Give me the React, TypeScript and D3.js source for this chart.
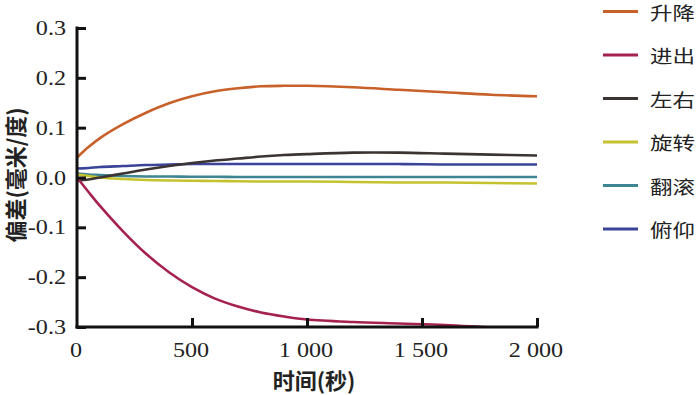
import React, { useEffect, useRef } from 'react';
import * as d3 from 'd3';

// sample times (seconds)
const times = [0, 50, 100, 200, 300, 400, 500, 600, 700, 800, 900, 1000, 1200, 1400, 1600, 1800, 2000];

const seriesNames = ['升降', '进出', '左右', '旋转', '翻滚', '俯仰'];
const seriesColors = ['#c8602a', '#a5224f', '#3b3432', '#c4c22e', '#3d8593', '#3b4498'];

const liftValues = [0.040, 0.061, 0.079, 0.107, 0.130, 0.149, 0.163, 0.173, 0.179, 0.183, 0.184, 0.184, 0.181, 0.176, 0.171, 0.166, 0.163];
const inOutValues = [0.0, -0.029, -0.057, -0.108, -0.153, -0.190, -0.220, -0.243, -0.259, -0.271, -0.279, -0.285, -0.290, -0.293, -0.296, -0.301, -0.305];
const leftRightValues = [-0.006, -0.004, 0.0, 0.008, 0.016, 0.023, 0.029, 0.034, 0.038, 0.042, 0.045, 0.047, 0.050, 0.050, 0.048, 0.046, 0.044];
const rotateValues = [0.006, 0.003, 0.0, -0.003, -0.005, -0.006, -0.0065, -0.007, -0.0075, -0.008, -0.008, -0.008, -0.009, -0.010, -0.010, -0.011, -0.012];
const rollValues = [0.008, 0.006, 0.005, 0.003, 0.002, 0.002, 0.0015, 0.0015, 0.001, 0.001, 0.001, 0.001, 0.001, 0.001, 0.001, 0.001, 0.001];
const pitchValues = [0.018, 0.019, 0.021, 0.023, 0.025, 0.026, 0.027, 0.027, 0.027, 0.027, 0.027, 0.027, 0.027, 0.027, 0.026, 0.026, 0.026];

const yTicks = [0.3, 0.2, 0.1, 0.0, -0.1, -0.2, -0.3];
const yTickLabels = ['0.3', '0.2', '0.1', '0.0', '-0.1', '-0.2', '-0.3'];
const xTicks = [0, 500, 1000, 1500, 2000];
const xTickLabels = ['0', '500', '1 000', '1 500', '2 000'];

const W = 700;
const H = 395;
const left = 77, right = 537, top = 28, bottom = 327;

const serif = 'Liberation Serif, Times New Roman, serif';
const cjk = 'Noto Sans CJK SC';

export default function App() {
  const ref = useRef<SVGSVGElement | null>(null);

  useEffect(() => {
    const svg = d3.select(ref.current);
    svg.selectAll('*').remove();

    const x = d3.scaleLinear().domain([0, 2000]).range([left, right]);
    const y = d3.scaleLinear().domain([-0.3, 0.3]).range([bottom, top]);

    const allSeries = [liftValues, inOutValues, leftRightValues, rotateValues, rollValues, pitchValues];

    svg.append('defs').append('clipPath').attr('id', 'plot-clip')
      .append('rect').attr('x', left).attr('y', top).attr('width', right - left).attr('height', bottom - top);

    const line = d3.line<number>()
      .x((_, i) => x(times[i]))
      .y(d => y(d))
      .curve(d3.curveCatmullRom.alpha(0.5));

    const g = svg.append('g').attr('clip-path', 'url(#plot-clip)');
    // lighter lines underneath, darker on top
    const order = [4, 3, 5, 2, 0, 1];
    order.forEach(k => {
      g.append('path')
        .attr('d', line(allSeries[k]))
        .attr('fill', 'none')
        .attr('stroke', seriesColors[k])
        .attr('stroke-width', 2.6);
    });

    // axes with inward ticks
    const yAxis = d3.axisLeft(y).tickValues(yTicks).tickSize(-9).tickSizeOuter(0).tickFormat(() => '');
    const xAxis = d3.axisBottom(x).tickValues(xTicks.slice(1)).tickSize(-9).tickSizeOuter(0).tickFormat(() => '');

    const ya = svg.append('g').attr('transform', `translate(${left},0)`).call(yAxis);
    const xa = svg.append('g').attr('transform', `translate(0,${bottom})`).call(xAxis);
    [ya, xa].forEach(a => {
      a.select('.domain').attr('stroke', '#111').attr('stroke-width', 3);
      a.selectAll('.tick line').attr('stroke', '#111').attr('stroke-width', 3);
    });
    xa.select('.domain').attr('d', `M${left - 1.5},0H${right + 1.5}`);
    ya.select('.domain').attr('d', `M0,${top - 1.5}V${bottom + 1.5}`);

    // tick labels (serif numerals, stretched a little horizontally)
    const labels = svg.append('g').attr('font-family', serif).attr('font-size', 21).attr('fill', '#222');
    labels.append('g').selectAll('text').data(yTicks).join('text')
      .attr('transform', d => `translate(66,${y(d) + 7}) scale(1.15,1)`)
      .attr('text-anchor', 'end')
      .text((_, i) => yTickLabels[i]);

    labels.append('g').selectAll('text').data(xTicks).join('text')
      .attr('transform', d => `translate(${x(d) - 1},357) scale(1.15,1)`)
      .attr('text-anchor', 'middle')
      .text((_, i) => xTickLabels[i]);

    // axis titles
    const titles = svg.append('g').attr('font-family', cjk).attr('font-weight', 700)
      .attr('font-size', 22).attr('fill', '#222');
    titles.append('text')
      .attr('x', 314).attr('y', 389)
      .attr('text-anchor', 'middle')
      .text('时间(秒)');

    titles.append('text')
      .attr('transform', 'translate(24,175) rotate(-90)')
      .attr('text-anchor', 'middle')
      .text('偏差(毫米/度)');

    // legend
    const legendY = d3.scalePoint<string>().domain(seriesNames).range([11.5, 229]);
    const lg = svg.append('g').attr('font-family', cjk).attr('font-size', 18).attr('fill', '#222');
    seriesNames.forEach((name, i) => {
      const yy = legendY(name) as number;
      lg.append('line')
        .attr('x1', 603).attr('x2', 638).attr('y1', yy).attr('y2', yy)
        .attr('stroke', seriesColors[i]).attr('stroke-width', 3);
      lg.append('text')
        .attr('transform', `translate(650,${yy + 8}) scale(1.25,1)`)
        .text(name);
    });
  }, []);

  return (
    <svg ref={ref} width={W} height={H} viewBox={`0 0 ${W} ${H}`}
      style={{ position: 'absolute', left: 0, top: 0, background: '#fff' }} />
  );
}
